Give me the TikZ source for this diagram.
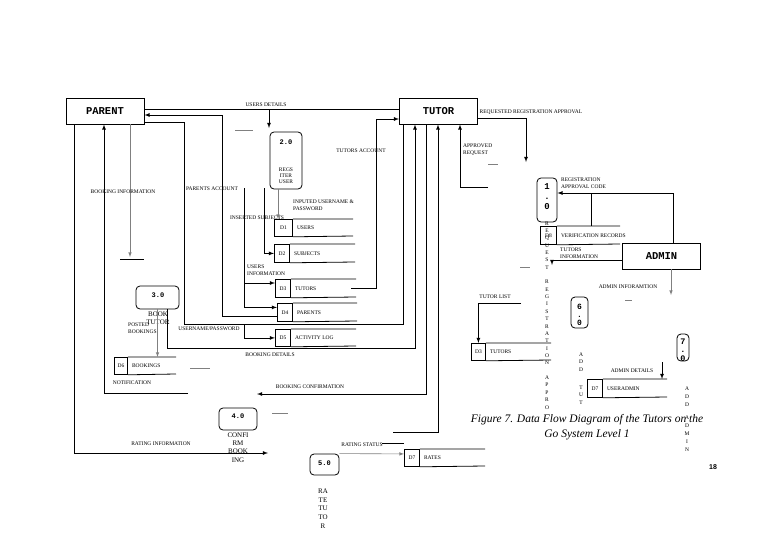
\documentclass[tikz,border=0pt]{standalone}
\usepackage{fontspec}
\setmainfont{Liberation Serif}
\newfontfamily\slabfont{Liberation Mono}
\newfontfamily\pagenofont{Liberation Sans}
\begin{document}
\begin{tikzpicture}[x=1pt,y=-1pt,>=latex,
    entity/.style={draw,line width=0.9pt,minimum width=78pt,minimum height=26pt,inner sep=0pt,font=\slabfont\bfseries\fontsize{10.5}{12}\selectfont},
    process/.style={draw,rounded corners=4pt,line width=0.8pt,inner sep=0pt},
    pnum/.style={inner sep=0pt,align=center,font=\slabfont\bfseries\fontsize{7}{8}\selectfont},
    pname/.style={inner sep=0pt,align=center,anchor=north,font=\fontsize{7}{8.3}\selectfont},
    lbl/.style={inner sep=0pt,font=\fontsize{5.5}{6.6}\selectfont},
    vstack/.style={inner sep=0pt,align=center,anchor=north,font=\fontsize{5.5}{7.4}\selectfont},
    storeid/.style={draw,line width=0.8pt,inner sep=0pt,anchor=north west,font=\fontsize{5.5}{6.6}\selectfont},
    flow/.style={line width=0.8pt},
    thinflow/.style={line width=0.6pt,gray},
    stub/.style={line width=0.6pt,gray}]
    \fill[white] (0,0) rectangle (768,543);
    \useasboundingbox (0,0) rectangle (768,543);

    % external entities
    \node[entity] (parent) at (105,111) {PARENT};
    \node[entity] (tutor) at (438.5,111) {TUTOR};
    \node[entity] (admin) at (661.5,256) {ADMIN};

    % processes
    \node[process,minimum width=32pt,minimum height=57pt] (p2) at (286,160.5) {};
    \node[pnum] (p2n) at (286,142) {2.0};
    \node[pname,font=\fontsize{5.5}{6}\selectfont] (p2t) at (286,168) {REGS\\ITER\\USER};

    \node[process,minimum width=20pt,minimum height=44pt] (p1) at (547,200) {};
    \node[pnum,anchor=north,font=\slabfont\bfseries\fontsize{9}{10}\selectfont] (p1n) at (547,183.5) {1\\.\\0};

    \node[process,minimum width=43pt,minimum height=23pt] (p3) at (157.5,297.5) {};
    \node[pnum] (p3n) at (158,295) {3.0};
    \node[pname] (p3t) at (158,311.5) {BOOK\\TUTOR};

    \node[process,minimum width=38pt,minimum height=22pt] (p4) at (238,419) {};
    \node[pnum] (p4n) at (238,416.5) {4.0};
    \node[pname] (p4t) at (238,432.5) {CONFI\\RM\\BOOK\\ING};

    \node[process,minimum width=29pt,minimum height=21pt] (p5) at (324.5,464.5) {};
    \node[pnum] (p5n) at (324.5,463) {5.0};
    \node[pname,font=\fontsize{7}{8.7}\selectfont] (p5t) at (323,488.5) {RA\\TE\\TU\\TO\\R};

    \node[process,minimum width=17pt,minimum height=31pt] (p6) at (579.5,312.5) {};
    \node[pnum,anchor=north,font=\slabfont\bfseries\fontsize{8}{8}\selectfont] (p6n) at (579.5,304) {6\\.\\0};
    \node[vstack,font=\fontsize{5.5}{7.5}\selectfont] (p6t) at (581,352.2) {A\\D\\D\\[10.5pt]T\\U\\T};

    \node[process,minimum width=12pt,minimum height=27pt] (p7) at (683,347.5) {};
    \node[pnum,anchor=north,font=\slabfont\bfseries\fontsize{8.5}{8.5}\selectfont] (p7n) at (683,338.5) {7\\.\\0};
    \node[vstack,font=\fontsize{5.5}{8.1}\selectfont] (p7t) at (687,386.2) {A\\D\\D\\[4.9pt]A\\D\\M\\I\\N};

    % data stores
    \foreach \n/\id/\txt/\l/\t/\d/\r/\b in {sd1/D1/USERS/274/219/292/353/236,
        sd2/D2/SUBJECTS/274/244/289/355/262,
        sd3/D3/TUTORS/275/279/290/356/297,
        sd4/D4/PARENTS/277/303/292/357/321,
        sd5/D5/ACTIVITY LOG/275/329/290/356/346,
        sd6/D6/BOOKINGS/114/357/127/176/374,
        sd8/D8/VERIFICATION RECORDS/540/226/556/620/244,
        sd3b/D3/TUTORS/471/343/485/551/360,
        sd7/D7/USERADMIN/587/379/602/667/397,
        sd7b/D7/RATES/404/449/419/485/466}{
        \node[storeid,minimum width=\d pt-\l pt,minimum height=\b pt-\t pt] (\n) at (\l,\t) {\id};
        \draw[flow] (\n.north east) -- (\r,\t) (\n.south east) -- (\r,\b);
        \node[lbl,anchor=west] (l\n) at ([xshift=4pt]\n.east) {\txt};
    }

    % vertical text under 1.0
    \node[vstack,font=\fontsize{5.5}{7.36}\selectfont] (p1t) at (547,221.2) {R\\E\\Q\\U\\E\\S\\T\\[7.36pt]R\\E\\G\\I\\S\\T\\R\\A\\T\\I\\O\\N\\[7.36pt]A\\P\\P\\R\\O};

    % free ends
    \coordinate (udtip) at (269,128);
    \coordinate (p2out) at (278,189);
    \coordinate (ritip) at (268,453);
    \coordinate (notend) at (188,393);
    \coordinate (bctip) at (257,394);
    \coordinate (taend) at (351,288);
    \coordinate (rsend) at (393,432);
    \coordinate (rratip) at (526,162);
    \coordinate (arend) at (488,187);
    \coordinate (titip) at (552,265);
    \coordinate (aitip) at (671,295);
    \coordinate (adend) at (662,362);
    \coordinate (tlend) at (521,303);

    % parent <-> tutor, register user
    \draw[flow] ([yshift=2pt]parent.east) -- ([yshift=2pt]tutor.west);
    \draw[flow,->] (269,109) -- (udtip);
    \node[lbl] (lud) at (266,104.5) {USERS DETAILS};
    \draw[flow,->] ([yshift=-4pt]sd4.west) -| (222,115) -- (parent.east |- 0,115);
    \draw[flow] ([yshift=-11pt]parent.east) -| (184,324) -| (403,0 |- tutor.south);
    \draw[flow,->] (244,324) |- (sd5.west);
    \node[lbl] (lup) at (209,329) {USERNAME/PASSWORD};
    \draw[flow,->] (244,188) |- ([yshift=5pt]sd4.west);
    \draw[flow,->] (244,283) -- (sd3.west |- 0,283);
    \node[lbl] (lpa) at (212,189) {PARENTS ACCOUNT};
    \node[lbl,align=left,anchor=west] (lui) at (247,270.5) {USERS\\INFORMATION};
    \draw[flow,->] (264,188) |- (sd2.west);
    \node[lbl] (lis) at (257,218) {INSERTED SUBJECTS};
    \draw[thinflow,->] (p2out) -- (p2out |- sd1.north);
    \node[lbl,align=left,anchor=west] (liu) at (293,205.5) {INPUTED USERNAME \&\\PASSWORD};

    % booking
    \draw[thinflow,->] (parent.south -| 130,0) -- (130,257);
    \draw[flow] (120,259) -- (144,259);
    \node[lbl] (lbi) at (123,192) {BOOKING INFORMATION};
    \draw[flow,->] (parent.south -| 74,0) |- (ritip);
    \node[lbl] (lri) at (161,444) {RATING INFORMATION};
    \draw[flow,->] (notend) -| (parent.south -| 104,0);
    \node[lbl] (lno) at (132,383) {NOTIFICATION};
    \draw[flow,->] (tutor.south -| 426,0) |- (bctip);
    \node[lbl] (lbc) at (310,387) {BOOKING CONFIRMATION};
    \draw[flow,->] (p3.south -| 167,0) |- (415,348) -- (tutor.south -| 415,0);
    \node[lbl] (lbd) at (270,355) {BOOKING DETAILS};
    \draw[thinflow,->] (p3.south) -- (p3.south |- sd6.north);
    \node[lbl,align=left,anchor=west] (lpb) at (128,328) {POSTED\\BOOKINGS};

    % tutor account, rating
    \draw[flow,->] (taend) -| (376,119) -- (tutor.west |- 0,119);
    \node[lbl] (lta) at (361,151) {TUTORS ACCOUNT};
    \draw[flow,->] (rsend) -| (tutor.south -| 438,0);
    \draw[thinflow,->] (p5.north east) -- ([yshift=4pt]sd7b.west);
    \draw[flow] (382,443) -- (404,443);
    \node[lbl] (lrs) at (362,445) {RATING STATUS};

    % registration approval
    \draw[flow,->] ([yshift=-7pt]tutor.east) -| (rratip);
    \node[lbl] (lrra) at (531,112) {REQUESTED REGISTRATION APPROVAL};
    \draw[flow,->] (arend) -| (tutor.south -| 460,0);
    \node[lbl,align=left,anchor=west] (lar) at (463,149.5) {APPROVED\\REQUEST};
    \draw[flow,->] (admin.north -| 673,0) |- (p1.east |- 0,193);
    \draw[flow] (591,193) -- (591,0 |- sd8.north);
    \node[lbl,align=left,anchor=west] (lrac) at (561,183.5) {REGISTRATION\\APPROVAL CODE};
    \draw[flow,->] ([yshift=-4pt]admin.west) -| (titip);
    \node[lbl,align=left,anchor=west] (ltin) at (560,253.5) {TUTORS\\INFORMATION};
    \draw[thinflow,->] (admin.south -| aitip) -- (aitip);
    \node[lbl] (lai) at (628,287) {ADMIN INFORAMTION};
    \draw[flow,->] (adend) -- (adend |- sd7.north);
    \node[lbl] (lad) at (632,371) {ADMIN DETAILS};
    \draw[flow,->] (tlend) -| (sd3b.north);
    \node[lbl] (ltl) at (495,297) {TUTOR LIST};

    % loose strokes
    \draw[stub] (235,130) -- (253,130);
    \draw[stub] (488,164) -- (498,164);
    \draw[stub] (520,267) -- (530,267);
    \draw[stub] (625,300) -- (632,300);
    \draw[stub] (190,368) -- (210,368);
    \draw[stub] (272,413) -- (288,413);

    % caption and page number
    \node[inner sep=0pt,align=center,font=\itshape\fontsize{11.5}{14.5}\selectfont] (caption) at (587,427) {Figure 7. Data Flow Diagram of the Tutors on the\\Go System Level 1};
    \node[inner sep=0pt,font=\pagenofont\bfseries\fontsize{7}{8}\selectfont] (pageno) at (713,467) {18};
\end{tikzpicture}
\end{document}
